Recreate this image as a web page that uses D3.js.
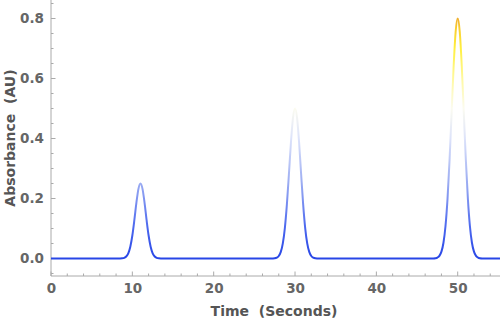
<!DOCTYPE html>
<html><head><meta charset="utf-8">
<script src="https://cdn.jsdelivr.net/npm/d3@7"></script>
<style>body{margin:0;background:#fff}svg{display:block}</style>
</head><body>
<svg id="c" width="500" height="321"></svg>
<script>
// Time (s) and absorbance (AU)
const times = [0, 8,
  8.5, 8.75, 9, 9.25, 9.5, 9.75, 10, 10.25, 10.5, 10.75, 11, 11.25, 11.5, 11.75, 12, 12.25, 12.5, 12.75, 13, 13.25, 13.5,
  14, 27,
  27.25, 27.5, 27.75, 28, 28.25, 28.5, 28.75, 29, 29.25, 29.5, 29.75, 30, 30.25, 30.5, 30.75, 31, 31.25, 31.5, 31.75, 32, 32.25, 32.5, 32.75,
  33, 46.5,
  47, 47.25, 47.5, 47.75, 48, 48.25, 48.5, 48.75, 49, 49.25, 49.5, 49.75, 50, 50.25, 50.5, 50.75, 51, 51.25, 51.5, 51.75, 52, 52.25, 52.5, 52.75, 53,
  53.5, 55.2];
const absorbance = [0, 0,
  0.0002, 0.0006, 0.0022, 0.0067, 0.0174, 0.0393, 0.0766, 0.1285, 0.1860, 0.2322, 0.25, 0.2322, 0.1860, 0.1285, 0.0766, 0.0393, 0.0174, 0.0067, 0.0022, 0.0006, 0.0002,
  0, 0,
  0.0002, 0.0008, 0.0029, 0.0084, 0.0220, 0.0503, 0.1015, 0.1802, 0.2817, 0.3874, 0.4691, 0.50, 0.4691, 0.3874, 0.2817, 0.1802, 0.1015, 0.0503, 0.0220, 0.0084, 0.0029, 0.0008, 0.0002,
  0, 0,
  0.0003, 0.0010, 0.0031, 0.0089, 0.0229, 0.0526, 0.1083, 0.1995, 0.3289, 0.4852, 0.6406, 0.7568, 0.80, 0.7568, 0.6406, 0.4852, 0.3289, 0.1995, 0.1083, 0.0526, 0.0229, 0.0089, 0.0031, 0.0010, 0.0003,
  0, 0];
const xTicks = [0, 10, 20, 30, 40, 50];
const xMinor = [2, 4, 6, 8, 12, 14, 16, 18, 22, 24, 26, 28, 32, 34, 36, 38, 42, 44, 46, 48, 52, 54];
const yTicks = [0, 0.2, 0.4, 0.6, 0.8];
const yMinor = [-0.05, 0.05, 0.1, 0.15, 0.25, 0.3, 0.35, 0.45, 0.5, 0.55, 0.65, 0.7, 0.75, 0.85];
const colorStops = [
  [0, "#2846e6"], [0.1, "#4a66ee"], [0.25, "#9aabf2"], [0.4, "#dde3fa"], [0.5, "#fbfbf0"],
  [0.6, "#fff9a0"], [0.7, "#fff040"], [0.77, "#f8cc30"], [0.8, "#f0b030"]];

const svg = d3.select("#c");
const x = d3.scaleLinear().domain([0, 55.2]).range([51, 500]);
const y = d3.scaleLinear().domain([0, 0.8]).range([258.5, 18.5]);
const axisY = 276, axisX = 51;
const axisCol = "#aaaaaa", labCol = "#666666";

// gradient
const grad = svg.append("defs").append("linearGradient").attr("id", "g")
  .attr("gradientUnits", "userSpaceOnUse")
  .attr("x1", 0).attr("x2", 0).attr("y1", y(0)).attr("y2", y(0.8));
grad.selectAll("stop").data(colorStops).join("stop")
  .attr("offset", d => d[0] / 0.8).attr("stop-color", d => d[1]);

// axes
const gx = svg.append("g").attr("transform", `translate(0,${axisY})`);
gx.call(d3.axisBottom(x).tickValues(xTicks).tickSize(0).tickPadding(7).tickFormat(d3.format("d")));
gx.select(".domain").remove();
gx.append("line").attr("x1", axisX).attr("x2", 500).attr("stroke", axisCol);
gx.selectAll(".maj").data(xTicks).join("line").attr("x1", d => x(d)).attr("x2", d => x(d))
  .attr("y1", 0).attr("y2", -4.5).attr("stroke", axisCol);
gx.selectAll(".mnr").data(xMinor).join("line").attr("x1", d => x(d)).attr("x2", d => x(d))
  .attr("y1", 0).attr("y2", -2.5).attr("stroke", axisCol);

const gy = svg.append("g").attr("transform", `translate(${axisX},0)`);
gy.call(d3.axisLeft(y).tickValues(yTicks).tickSize(0).tickPadding(7).tickFormat(d3.format(".1f")));
gy.select(".domain").remove();
gy.append("line").attr("y1", 0).attr("y2", axisY).attr("stroke", axisCol);
gy.selectAll(".maj").data(yTicks).join("line").attr("y1", d => y(d)).attr("y2", d => y(d))
  .attr("x1", 0).attr("x2", 4.5).attr("stroke", axisCol);
gy.selectAll(".mnr").data(yMinor).join("line").attr("y1", d => y(d)).attr("y2", d => y(d))
  .attr("x1", 0).attr("x2", 2.5).attr("stroke", axisCol);

svg.selectAll(".tick text").attr("fill", labCol).attr("font-family", "DejaVu Sans")
  .attr("font-weight", "bold").attr("font-size", 13.5);

// titles
svg.append("text").attr("x", 274).attr("y", 316).attr("text-anchor", "middle")
  .attr("font-family", "DejaVu Sans").attr("font-weight", "bold").attr("font-size", 14)
  .attr("fill", "#555").style("white-space", "pre").text("Time  (Seconds)");
svg.append("text").attr("transform", "translate(10,138) rotate(-90)").attr("text-anchor", "middle")
  .attr("dy", "0.35em")
  .attr("font-family", "DejaVu Sans").attr("font-weight", "bold").attr("font-size", 14)
  .attr("fill", "#555").style("white-space", "pre").text("Absorbance  (AU)");

// curve
const pts = times.map((t, i) => [t, absorbance[i]]);
svg.append("path").datum(pts)
  .attr("d", d3.line().x(d => x(d[0])).y(d => y(d[1])).curve(d3.curveMonotoneX))
  .attr("fill", "none").attr("stroke", "url(#g)").attr("stroke-width", 2);
</script>
</body></html>
